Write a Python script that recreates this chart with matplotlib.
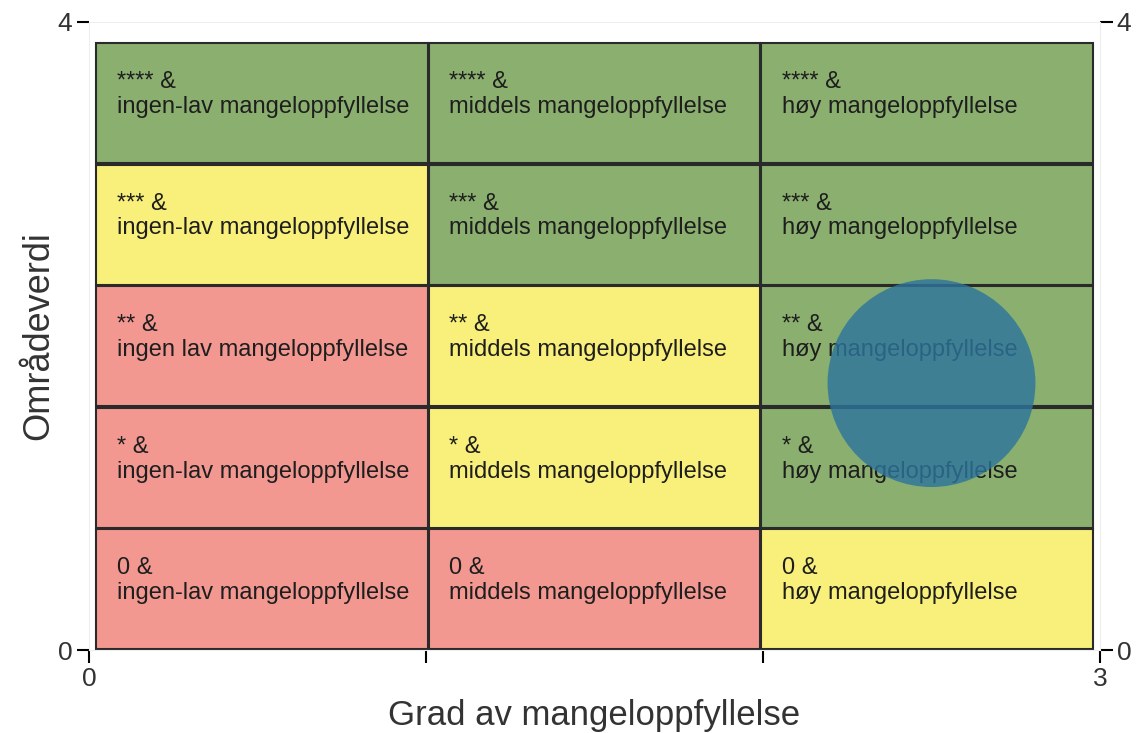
import matplotlib
matplotlib.use("Agg")
import matplotlib.pyplot as plt
from matplotlib.patches import Rectangle

plt.rcParams['font.family'] = ['Liberation Sans', 'DejaVu Sans']

# ---- data ----
row_labels = ["0", "*", "**", "***", "****"]          # bottom -> top
col_labels = ["ingen-lav", "middels", "høy"]           # left -> right
cell_texts = [
    ["0 &\ningen-lav mangeloppfyllelse", "0 &\nmiddels mangeloppfyllelse", "0 &\nhøy mangeloppfyllelse"],
    ["* &\ningen-lav mangeloppfyllelse", "* &\nmiddels mangeloppfyllelse", "* &\nhøy mangeloppfyllelse"],
    ["** &\ningen lav mangeloppfyllelse", "** &\nmiddels mangeloppfyllelse", "** &\nhøy mangeloppfyllelse"],
    ["*** &\ningen-lav mangeloppfyllelse", "*** &\nmiddels mangeloppfyllelse", "*** &\nhøy mangeloppfyllelse"],
    ["**** &\ningen-lav mangeloppfyllelse", "**** &\nmiddels mangeloppfyllelse", "**** &\nhøy mangeloppfyllelse"],
]
cell_class = [
    ["red", "red", "yellow"],
    ["red", "yellow", "green"],
    ["red", "yellow", "green"],
    ["yellow", "green", "green"],
    ["green", "green", "green"],
]
class_colors = {"red": "#f29891", "yellow": "#f8f07a", "green": "#8aaf6f"}

point_x = [2.5]
point_y = [1.7]

x_label = "Grad av mangeloppfyllelse"
y_label = "Områdeverdi"
x_ticks = [0, 1, 2, 3]
x_ticklabels = ["0", "", "", "3"]
y_ticks = [0, 4]
y_ticklabels = ["0", "4"]

# ---- figure ----
fig = plt.figure(figsize=(11.37, 7.33), dpi=100)
ax = fig.add_axes([89/1137, 83/733, 1011/1137, 628/733])
ax.set_xlim(0, 3)
ax.set_ylim(0, 4)

grid_x0, grid_x1 = 0.02, 2.98
grid_y0, grid_y1 = 0.0, 3.87
nrows, ncols = len(row_labels), len(col_labels)
cw = (grid_x1 - grid_x0) / ncols
rh = (grid_y1 - grid_y0) / nrows
gx, gy = 0.004, 0.008

for r in range(nrows):
    for c in range(ncols):
        x = grid_x0 + c * cw
        y = grid_y0 + r * rh
        ax.add_patch(Rectangle((x + gx / 2, y + gy / 2), cw - gx, rh - gy,
                               facecolor=class_colors[cell_class[r][c]],
                               edgecolor="#2a2a2a", linewidth=1.5, zorder=1))
        ax.text(x + 0.062, y + rh - 0.333, cell_texts[r][c], ha="left", va="center",
                fontsize=17, color="#1e1e1e", linespacing=1.15, zorder=2)

ax.scatter(point_x, point_y, s=22400, color="#2d749d", alpha=0.8,
           edgecolors="none", zorder=3)

for s in ax.spines.values():
    s.set_color("#eeeeee")
    s.set_linewidth(0.8)

ax.set_xticks(x_ticks)
ax.set_xticklabels(x_ticklabels)
ax.set_yticks(y_ticks)
ax.set_yticklabels(y_ticklabels)
ax.tick_params(axis="both", direction="out", length=9, width=1.5, color="black",
               labelsize=19, labelcolor="#333333", pad=3)
ax.tick_params(axis="y", right=True, labelright=True)

ax.set_xlabel(x_label, fontsize=25, color="#333333", labelpad=6)
ax.set_ylabel(y_label, fontsize=26, color="#333333", labelpad=1)

fig.savefig("out.png", dpi=100)
